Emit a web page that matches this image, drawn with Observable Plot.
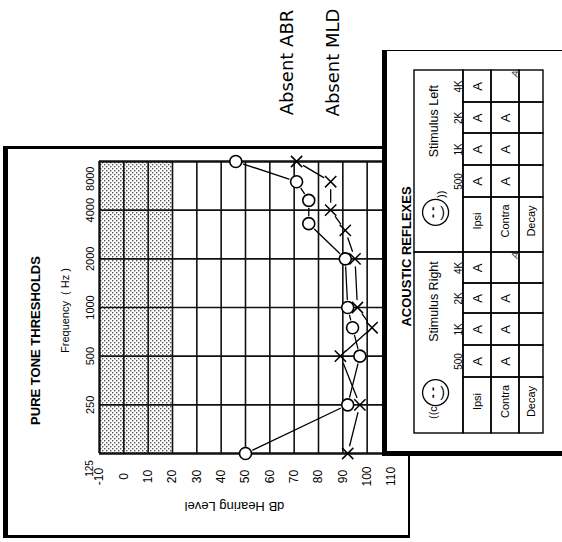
<!DOCTYPE html>
<html><head><meta charset="utf-8">
<script src="https://cdn.jsdelivr.net/npm/d3@7"></script>
<script src="https://cdn.jsdelivr.net/npm/@observablehq/plot@0.6"></script>
<style>
html,body{margin:0;padding:0;background:#fff;}
#wrap{position:relative;width:562px;height:542px;overflow:hidden;background:#fff;}
#frame{position:absolute;left:3px;top:146px;width:400px;height:386px;border-left:5px solid #000;border-top:3px solid #000;border-bottom:3px solid #000;border-right:2px solid #000;z-index:1;}
#box{position:absolute;left:382px;top:50px;width:180px;height:400px;background:#fff;border-left:5px solid #000;border-top:1px solid #000;border-bottom:5px solid #000;box-sizing:content-box;z-index:2;}
.layer{position:absolute;left:0;top:0;}
#main{z-index:0;}
#table{z-index:3;}
</style></head><body><div id="wrap"><div id="main" class="layer"></div><div id="frame"></div><div id="box"></div><div id="table" class="layer"></div></div>
<script>
// ---- Data ----
const dbTicks = [-10, 0, 10, 20, 30, 40, 50, 60, 70, 80, 90, 100, 110];
const freqTicks = [250, 500, 1000, 2000, 4000, 8000];
const freqLabels = ["250", "500", "1000", "2000", "4000", "8000"];
const freqGrid = [125, 250, 500, 1000, 2000, 4000, 8000];
const normalRange = [-10, 20];
// Right ear (O) and left ear (X) thresholds
const rightFreq = [125, 250, 500, 750, 1000, 2000, 3300, 4600, 6000, 8000];
const rightDb   = [50, 92, 97, 94, 92, 91, 76, 76, 71, 46];
const leftFreq  = [125, 250, 500, 750, 1000, 2000, 3000, 4000, 6000, 8000];
const leftDb    = [92, 97, 89, 102, 96, 95, 91, 85, 85, 71];
// Acoustic reflexes (order 4K, 2K, 1K, 500)
const reflexFreqs = ["4K", "2K", "1K", "500"];
const reflexTests = ["Ipsi", "Contra", "Decay"];
const leftIpsi = ["A", "A", "A", "A"];
const leftContra = ["A", "A", "A", "A"];
const leftDecay = ["", "", "", ""];
const rightIpsi = ["A", "A", "A", "A"];
const rightContra = ["A", "A", "A", "A"];
const rightDecay = ["", "", "", ""];
const notes = ["Absent ABR", "Absent MLD"];

const SANS = "Liberation Sans, Arial, Helvetica, sans-serif";

const rightPts = rightFreq.map((f, i) => ({freq: f, db: rightDb[i]}));
const leftPts = leftFreq.map((f, i) => ({freq: f, db: leftDb[i]}));
const pairs = pts => pts.slice(1).map((p, i) => ({f1: pts[i].freq, d1: pts[i].db, f2: p.freq, d2: p.db}));

const label = (txt, x, y, opts = {}) => Plot.text([txt], Object.assign({
  text: d => d, frameAnchor: "top-left", dx: x, dy: y, rotate: -90,
  textAnchor: "middle", lineAnchor: "middle", fontFamily: SANS, fontSize: 12, fill: "#000"
}, opts));

const main = Plot.plot({
  width: 562, height: 542, margin: 0,
  style: {background: "transparent"},
  x: {type: "linear", domain: [-10, 110], range: [99, 391], axis: null},
  y: {type: "log", domain: [125, 8000], range: [453, 161], axis: null},
  marks: [
    Plot.rect([normalRange], {x1: d => d[0], x2: d => d[1], y1: () => 125, y2: () => 8000, fill: "url(#stip)"}),
    Plot.ruleX(dbTicks, {x: d => d, y1: () => 125, y2: () => 8000, stroke: "#111", strokeWidth: d => d === -10 ? 2.4 : 1.6}),
    Plot.ruleY(freqGrid, {y: d => d, x1: () => -10, x2: () => 110, stroke: "#111", strokeWidth: d => (d === 125 || d === 8000) ? 2.4 : 1.7}),
    Plot.arrow(pairs(rightPts), {x1: "d1", y1: "f1", x2: "d2", y2: "f2", insetStart: 8, insetEnd: 8, headLength: 0, stroke: "#000", strokeWidth: 1.3}),
    Plot.arrow(pairs(leftPts), {x1: "d1", y1: "f1", x2: "d2", y2: "f2", insetStart: 8, insetEnd: 8, headLength: 0, stroke: "#000", strokeWidth: 1.3}),
    Plot.dot(rightPts, {x: "db", y: "freq", r: 6, stroke: "#000", strokeWidth: 1.6, fill: "white"}),
    Plot.dot(leftPts, {x: "db", y: "freq", r: 5.2, symbol: "times", stroke: "#000", strokeWidth: 1.5}),
    // frequency tick labels
    Plot.text(freqTicks, {x: () => -10, y: d => d, dx: -9, text: (d, i) => freqLabels[i], rotate: -90, fontSize: 11, fontFamily: SANS, textAnchor: "middle", lineAnchor: "middle", filter: d => d !== 8000}),
    Plot.text(freqTicks, {x: () => -10, y: d => d, dx: -9, dy: 5, text: (d, i) => freqLabels[i], rotate: -90, fontSize: 11, fontFamily: SANS, textAnchor: "end", lineAnchor: "middle", filter: d => d === 8000}),
    Plot.text([125], {x: () => -10, y: d => d, dx: -10, dy: 15, text: d => String(d), rotate: -90, fontSize: 10, fontFamily: SANS, textAnchor: "middle", lineAnchor: "middle"}),
    // dB tick labels
    Plot.text(dbTicks, {x: d => d, y: () => 125, dy: 23, text: d => String(d), rotate: -90, fontSize: 12, fontFamily: SANS, textAnchor: "middle", lineAnchor: "middle"}),
    label("PURE TONE THRESHOLDS", 35, 340, {fontWeight: "bold", fontSize: 13}),
    label("Frequency  ( Hz )", 65, 310, {fontSize: 11}),
    label("dB Hearing Level", 234, 506, {rotate: 180, fontSize: 13}),
    label(notes[0], 287, 62, {fontFamily: "DejaVu Sans, sans-serif", fontSize: 18}),
    label(notes[1], 333, 62, {fontFamily: "DejaVu Sans, sans-serif", fontSize: 18})
  ]
});
const defs = d3.select(main).insert("defs", ":first-child");
const pat = defs.append("pattern").attr("id", "stip").attr("width", 4).attr("height", 4).attr("patternUnits", "userSpaceOnUse");
pat.append("rect").attr("width", 4).attr("height", 4).attr("fill", "#fff");
pat.append("rect").attr("x", 0).attr("y", 0).attr("width", 1.4).attr("height", 1.4).attr("fill", "#555");
pat.append("rect").attr("x", 2).attr("y", 2).attr("width", 1.4).attr("height", 1.4).attr("fill", "#555");
document.getElementById("main").appendChild(main);

// ---- Acoustic reflex table ----
const sides = [
  {name: "Left", vals: [leftIpsi, leftContra, leftDecay]},
  {name: "Right", vals: [rightIpsi, rightContra, rightDecay]}
];
const cells = [], heads = [], icons = [], fl = [];
sides.forEach((s, si) => {
  reflexFreqs.forEach((f, fi) => {
    fl.push({text: f, row: si * 5 + fi});
    reflexTests.forEach((t, ti) => cells.push({kind: "val", text: s.vals[ti][fi], freq: f, test: t, row: si * 5 + fi, col: 1 + ti}));
  });
  reflexTests.forEach((t, ti) => cells.push({kind: "lab", text: t, row: si * 5 + 4, col: 1 + ti}));
  heads.push({text: "Stimulus " + s.name, row: si * 5, side: s.name});
  icons.push({row: si * 5 + 4.27, side: s.name});
});

const table = Plot.plot({
  width: 562, height: 542, margin: 0,
  style: {background: "transparent"},
  x: {type: "linear", domain: [0, 1, 2, 3, 4], range: [414, 463, 491, 519, 543], axis: null},
  y: {type: "linear", domain: [0, 1, 2, 3, 4, 5, 6, 7, 8, 9, 10], range: [70, 102, 133, 165, 197, 252, 283, 313, 345, 377, 433], axis: null},
  marks: [
    Plot.rect(cells, {x1: "col", x2: d => d.col + 1, y1: "row", y2: d => d.row + 1, stroke: "#000", strokeWidth: 1.4, fill: "none"}),
    Plot.rect(heads, {x1: () => 0, x2: () => 1, y1: "row", y2: d => d.row + 5, stroke: "#000", strokeWidth: 1.4, fill: "none"}),
    Plot.text(cells.filter(d => d.kind === "val" && !(d.freq === "4K" && d.test === "Contra")), {x: d => d.col + 0.5, y: d => d.row + 0.5, text: "text", rotate: -90, fontSize: 13, fontFamily: SANS, textAnchor: "middle", lineAnchor: "middle"}),
    Plot.text(cells.filter(d => d.kind === "val" && d.freq === "4K" && d.test === "Contra"), {x: d => d.col + 0.5, y: d => d.row + 0.5, dx: 10, dy: -13, text: "text", rotate: -70, fontSize: 10, fill: "#444", fontFamily: SANS, textAnchor: "middle", lineAnchor: "middle"}),
    Plot.text(cells.filter(d => d.kind === "lab"), {x: d => d.col + 0.5, y: d => d.row + 0.5, dy: -4, text: "text", rotate: -90, fontSize: 11, fontFamily: SANS, textAnchor: "middle", lineAnchor: "middle"}),
    Plot.text(fl, {x: () => 0.9, y: d => d.row + 0.5, text: "text", rotate: -90, fontSize: 10, fontFamily: SANS, textAnchor: "middle", lineAnchor: "middle"}),
    Plot.text(heads, {x: () => 0.39, y: d => d.row + 1.6, text: "text", rotate: -90, fontSize: 12.5, fontFamily: SANS, textAnchor: "middle", lineAnchor: "middle"}),
    Plot.dot(icons, {x: () => 0.43, y: "row", r: 13, stroke: "#000", strokeWidth: 1.3, fill: "none"}),
    Plot.text(icons, {x: () => 0.43, y: "row", dx: -2, text: () => "- -", rotate: -90, fontSize: 12, fontWeight: "bold", fontFamily: SANS, textAnchor: "middle", lineAnchor: "middle"}),
    Plot.text(icons, {x: () => 0.43, y: "row", dx: 7, text: () => ")", fontSize: 14, fontFamily: SANS, textAnchor: "middle", lineAnchor: "middle"}),
    Plot.text(icons.filter(d => d.side === "Left"), {x: () => 0.43, y: "row", dx: 6, dy: -18, text: () => "))", rotate: -90, fontSize: 11, fontFamily: SANS, textAnchor: "middle", lineAnchor: "middle"}),
    Plot.text(icons.filter(d => d.side === "Right"), {x: () => 0.43, y: "row", dx: -2, dy: 20, text: () => "((c", rotate: -90, fontSize: 11, fontFamily: SANS, textAnchor: "middle", lineAnchor: "middle"}),
    label("ACOUSTIC REFLEXES", 406, 256, {fontWeight: "bold", fontSize: 13})
  ]
});
document.getElementById("table").appendChild(table);
</script>
</body></html>
